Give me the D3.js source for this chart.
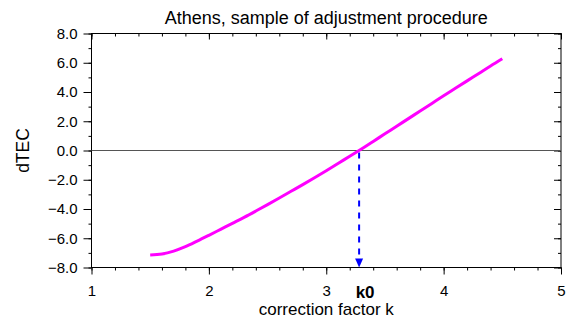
<!DOCTYPE html>
<html>
<head>
<meta charset="utf-8">
<script src="https://cdn.jsdelivr.net/npm/d3@7"></script>
<style>
  body { margin: 0; background: #fff; }
  text { font-family: "Liberation Sans", Arial, sans-serif; }
</style>
</head>
<body>
<div id="chart"></div>
<script>
// data
const kValues = [1.5, 1.6, 1.7, 1.8, 1.9, 2.0, 2.1, 2.2, 2.3, 2.4, 2.5, 2.6, 2.7, 2.8, 2.9, 3.0,
  3.1, 3.2, 3.3, 3.4, 3.5, 3.6, 3.7, 3.8, 3.9, 4.0, 4.1, 4.2, 4.3, 4.4, 4.5];
const dTec = [-7.15, -7.08, -6.88, -6.58, -6.2, -5.8, -5.39, -4.98, -4.57, -4.14, -3.7, -3.25,
  -2.79, -2.33, -1.86, -1.38, -0.89, -0.39, 0.1, 0.62, 1.14, 1.66, 2.18, 2.7, 3.22, 3.74,
  4.25, 4.76, 5.27, 5.78, 6.27];
const k0 = 3.28;
const xTicks = [1, 2, 3, 4, 5];
const yTicks = [-8, -6, -4, -2, 0, 2, 4, 6, 8];

const W = 568, H = 320;
const margin = { top: 33.5, right: 7, bottom: 52.5, left: 91.5 };
const width = W - margin.left - margin.right;
const height = H - margin.top - margin.bottom;

const svg = d3.select('#chart').append('svg')
  .attr('width', W).attr('height', H);

svg.append('text')
  .attr('x', margin.left + width / 2).attr('y', 24)
  .attr('text-anchor', 'middle').style('font-size', '18px')
  .text('Athens, sample of adjustment procedure');

const g = svg.append('g')
  .attr('transform', 'translate(' + margin.left + ',' + margin.top + ')');

const x = d3.scaleLinear().domain([1, 5]).range([0, width]);
const y = d3.scaleLinear().domain([-8, 8]).range([height, 0]);

const xMinor = d3.range(1, 5.001, 0.2);
const yMinor = d3.range(-8, 8.001, 1);

function styleAxis(sel) {
  sel.select('.domain').remove();
  sel.selectAll('line').attr('stroke', '#000');
  sel.selectAll('text').style('font-size', '15px').attr('fill', '#000');
}

// minor ticks
g.append('g').attr('transform', 'translate(0,' + height + ')')
  .call(d3.axisBottom(x).tickValues(xMinor).tickSize(3).tickFormat(''))
  .call(styleAxis);
g.append('g')
  .call(d3.axisBottom(x).tickValues(xMinor).tickSize(3).tickFormat(''))
  .call(styleAxis);
g.append('g')
  .call(d3.axisLeft(y).tickValues(yMinor).tickSize(3).tickFormat(''))
  .call(styleAxis);
g.append('g').attr('transform', 'translate(' + width + ',0)')
  .call(d3.axisLeft(y).tickValues(yMinor).tickSize(3).tickFormat(''))
  .call(styleAxis);

// major ticks
g.append('g').attr('transform', 'translate(0,' + height + ')')
  .call(d3.axisBottom(x).tickValues(xTicks).tickSize(7).tickPadding(11).tickFormat(d3.format('d')))
  .call(styleAxis);
g.append('g')
  .call(d3.axisBottom(x).tickValues(xTicks).tickSize(6).tickFormat(''))
  .call(styleAxis);
g.append('g')
  .call(d3.axisLeft(y).tickValues(yTicks).tickSize(8).tickPadding(6).tickFormat(d3.format('.1f')))
  .call(styleAxis);
g.append('g').attr('transform', 'translate(' + width + ',0)')
  .call(d3.axisLeft(y).tickValues(yTicks).tickSize(7).tickFormat(''))
  .call(styleAxis);

// frame
g.append('rect').attr('width', width).attr('height', height)
  .attr('fill', 'none').attr('stroke', '#000').attr('stroke-width', 1);

// zero line
g.append('line')
  .attr('x1', 0).attr('x2', width).attr('y1', y(0)).attr('y2', y(0))
  .attr('stroke', '#555').attr('stroke-width', 1.2);

// k0 dashed marker
g.append('line')
  .attr('x1', x(k0)).attr('x2', x(k0)).attr('y1', y(0) + 2).attr('y2', height - 8)
  .attr('stroke', '#0000ff').attr('stroke-width', 2).attr('stroke-dasharray', '6,6');
g.append('path')
  .attr('d', 'M' + (x(k0) - 4) + ',' + (height - 9) + 'L' + (x(k0) + 4) + ',' + (height - 9) +
    'L' + x(k0) + ',' + height + 'Z')
  .attr('fill', '#0000ff');

// curve
const line = d3.line().curve(d3.curveMonotoneX)
  .x((d, i) => x(kValues[i])).y(d => y(d));
g.append('path').datum(dTec)
  .attr('d', line).attr('fill', 'none')
  .attr('stroke', '#ff00ff').attr('stroke-width', 3);

// labels
g.append('text')
  .attr('x', x(k0) + 6).attr('y', height + 30)
  .attr('text-anchor', 'middle').style('font-size', '17px').style('font-weight', 'bold')
  .text('k0');

svg.append('text')
  .attr('x', margin.left + width / 2).attr('y', 315)
  .attr('text-anchor', 'middle').style('font-size', '17px')
  .text('correction factor k');

svg.append('text')
  .attr('transform', 'translate(29,' + (margin.top + height / 2) + ')rotate(-90)')
  .attr('text-anchor', 'middle').style('font-size', '17.5px')
  .text('dTEC');
</script>
</body>
</html>
